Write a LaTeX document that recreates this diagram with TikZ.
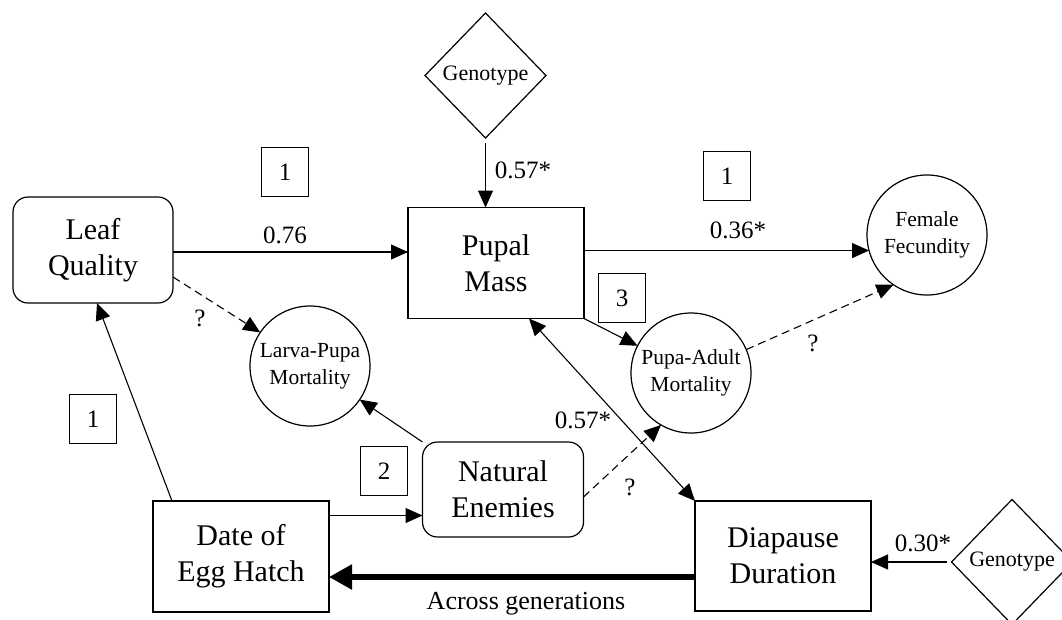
\documentclass[tikz,border=0pt]{standalone}
\usepackage{fontspec}
\setmainfont{Liberation Serif}
\usetikzlibrary{shapes.geometric,arrows.meta}
\begin{document}
\begin{tikzpicture}[x=1pt,y=-1pt,
  every node/.style={inner sep=0pt, outer sep=0pt},
  bigtxt/.style={font=\fontsize{30}{36}\selectfont, align=center},
  smalltxt/.style={font=\fontsize{21.5}{27}\selectfont, align=center},
  lbl/.style={font=\fontsize{25}{30}\selectfont},
  sqbox/.style={draw, line width=1.1pt, minimum width=47pt, minimum height=49pt, lbl},
  rbox/.style={draw, line width=1.2pt, rounded corners=15pt, bigtxt},
  plainbox/.style={draw, line width=1.2pt, bigtxt},
  circ/.style={draw, circle, line width=1.2pt, minimum size=120pt, smalltxt},
  geno/.style={draw, diamond, line width=1.2pt, minimum width=121pt, minimum height=125pt, font=\fontsize{22}{26}\selectfont},
  arr/.style={line width=1.1pt, -{Triangle[length=17pt,width=15pt]}},
  darr/.style={arr, dash pattern=on 8pt off 5pt},
  dblarr/.style={line width=1.1pt, {Triangle[length=17pt,width=15pt]}-{Triangle[length=17pt,width=15pt]}},
  thickarr/.style={line width=5.5pt, -{Triangle[length=23pt,width=24pt]}}
]
\useasboundingbox (0,0) rectangle (1062,619);
\clip (0,0) rectangle (1062,619);

% main nodes
\node[rbox, minimum width=160pt, minimum height=106pt] (leaf) at (93,250) {Leaf\\Quality};
\node[plainbox, minimum width=176pt, minimum height=111pt] (pupal) at (496,263) {Pupal\\Mass};
\node[geno] (geno1) at (485.5,75.5) {Genotype};
\node[circ] (fem) at (927,235) {Female\\Fecundity};
\node[circ] (pa) at (691,373) {Pupa-Adult\\Mortality};
\node[circ] (lp) at (310,366) {Larva-Pupa\\Mortality};
\node[rbox, minimum width=161pt, minimum height=95pt] (ne) at (503,489.5) {Natural\\Enemies};
\node[plainbox, minimum width=176pt, minimum height=111pt] (date) at (241,556.5) {Date of\\Egg Hatch};
\node[plainbox, minimum width=176pt, minimum height=110pt] (dia) at (783,556) {Diapause\\Duration};
\node[geno] (geno2) at (1012,562) {Genotype};

% numbered boxes
\node[sqbox] (b1a) at (285,172) {1};
\node[sqbox] (b1b) at (727,176) {1};
\node[sqbox] (b3) at (622,298) {3};
\node[sqbox] (b1c) at (93,419) {1};
\node[sqbox] (b2) at (384,471) {2};

% connectors
\draw[arr] ([yshift=-2pt]leaf.east) coordinate (lq) -- (lq -| pupal.west);
\draw[arr, shorten <=5pt] (geno1.south) -- (geno1.south |- pupal.north);
\draw[arr] (pupal.east |- fem.195.5) -- (fem.195.5);
\draw[arr] (pupal.south east) -- (pa);
\draw[darr] (pa.23) -- (fem.236);
\draw[darr] ([yshift=-27pt]leaf.east) -- (lp.146);
\draw[arr] ([xshift=-69pt]date.north) -- ([xshift=4pt]leaf.south);
\draw[arr] ([yshift=41pt]date.east) coordinate (dn) -- (dn -| ne.west);
\draw[arr] (ne.north west) -- (lp);
\draw[darr] ([yshift=-7.5pt]ne.east) -- (pa.240);
\draw[dblarr] ([xshift=33pt]pupal.south) -- (dia.north west);
\draw[arr, shorten <=5pt] (geno2.west) -- (geno2.west -| dia.east);
\draw[thickarr] ([yshift=-21pt]dia.west) coordinate (dw) -- (dw -| date.east);

% labels
\node[lbl] (l076) at (285,235) {0.76};
\node[lbl] (l057a) at (523,170) {0.57*};
\node[lbl] (l036) at (738,230) {0.36*};
\node[lbl] (l057b) at (583,420) {0.57*};
\node[lbl] (l030) at (923,543) {0.30*};
\node[lbl] (q1) at (200,318) {?};
\node[lbl] (q2) at (813,343) {?};
\node[lbl] (q3) at (630,487) {?};
\node[font=\fontsize{26}{30}\selectfont] (across) at (526,604) {Across generations};
\end{tikzpicture}
\end{document}
